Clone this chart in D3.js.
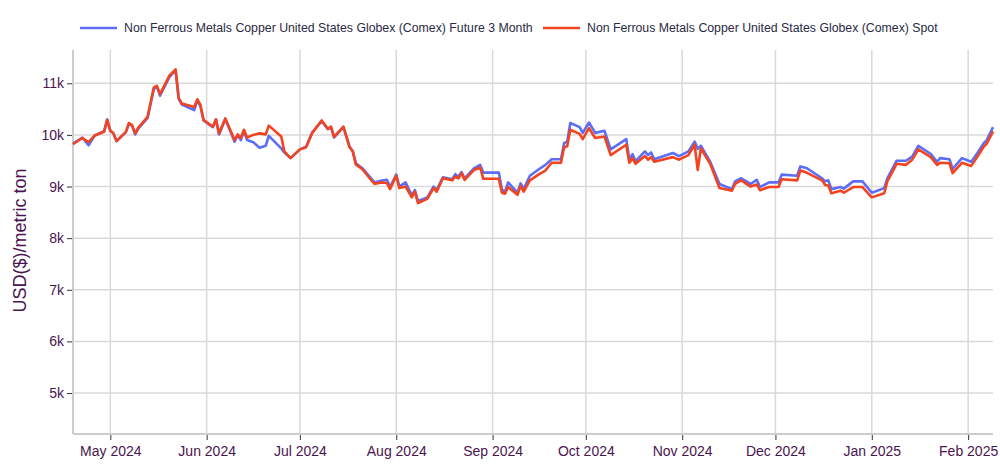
<!DOCTYPE html>
<html>
<head>
<meta charset="utf-8">
<script src="https://cdn.jsdelivr.net/npm/d3@7"></script>
<style>
  body { margin: 0; background: #fff; }
  svg { display: block; font-family: "Liberation Sans", Arial, sans-serif; }
</style>
</head>
<body>
<div id="chart"></div>
<script>
// series names
var seriesNames = [
  "Non Ferrous Metals Copper United States Globex (Comex) Future 3 Month",
  "Non Ferrous Metals Copper United States Globex (Comex) Spot"
]

var dates = [
  "2024-04-19","2024-04-22","2024-04-24","2024-04-26","2024-04-29","2024-04-30",
  "2024-05-01","2024-05-02","2024-05-03","2024-05-06","2024-05-07","2024-05-08","2024-05-09","2024-05-10",
  "2024-05-13","2024-05-15","2024-05-16","2024-05-17","2024-05-20","2024-05-22","2024-05-23","2024-05-24",
  "2024-05-28","2024-05-29","2024-05-30","2024-05-31",
  "2024-06-03","2024-06-04","2024-06-05","2024-06-07","2024-06-10","2024-06-11","2024-06-12","2024-06-13",
  "2024-06-14","2024-06-16","2024-06-18","2024-06-20","2024-06-21","2024-06-25","2024-06-26","2024-06-28",
  "2024-07-01","2024-07-03","2024-07-05","2024-07-08","2024-07-10","2024-07-11","2024-07-12","2024-07-15",
  "2024-07-17","2024-07-18","2024-07-19","2024-07-21","2024-07-25","2024-07-27","2024-07-29","2024-07-30",
  "2024-08-01","2024-08-02","2024-08-04","2024-08-06","2024-08-07","2024-08-08","2024-08-11","2024-08-13",
  "2024-08-14","2024-08-16","2024-08-19","2024-08-20","2024-08-21","2024-08-22","2024-08-23","2024-08-26",
  "2024-08-28","2024-08-29",
  "2024-09-03","2024-09-04","2024-09-05","2024-09-06","2024-09-09","2024-09-10","2024-09-11","2024-09-13",
  "2024-09-16","2024-09-18","2024-09-20","2024-09-23","2024-09-24","2024-09-25","2024-09-26","2024-09-29",
  "2024-09-30",
  "2024-10-02","2024-10-04","2024-10-07","2024-10-09","2024-10-14","2024-10-15","2024-10-16","2024-10-17",
  "2024-10-20","2024-10-21","2024-10-22","2024-10-23","2024-10-29","2024-10-31",
  "2024-11-03","2024-11-05","2024-11-06","2024-11-07","2024-11-10","2024-11-13","2024-11-17","2024-11-18",
  "2024-11-20","2024-11-23","2024-11-25","2024-11-26","2024-11-29",
  "2024-12-02","2024-12-03","2024-12-08","2024-12-09","2024-12-11","2024-12-16","2024-12-17","2024-12-18",
  "2024-12-19","2024-12-22","2024-12-23","2024-12-26","2024-12-29",
  "2025-01-01","2025-01-05","2025-01-06","2025-01-09","2025-01-12","2025-01-14","2025-01-16","2025-01-20",
  "2025-01-22","2025-01-23","2025-01-26","2025-01-27","2025-01-30",
  "2025-02-02","2025-02-04","2025-02-06","2025-02-07","2025-02-09"
]

var future3m = [
  9830,9950,9800,9990,10070,10300,
  10080,10030,9880,10050,10215,10180,10010,10120,
  10330,10890,10930,10760,11120,11260,10700,10590,
  10480,10670,10560,10280,
  10150,10300,10010,10310,9870,10000,9900,10080,
  9900,9860,9750,9790,9980,9740,9660,9550,
  9720,9770,10050,10270,10110,10150,9950,10150,
  9770,9690,9450,9360,9080,9110,9130,8990,
  9230,9000,9080,8830,8930,8720,8790,9000,
  8930,9180,9140,9240,9190,9280,9160,9350,
  9420,9270,
  9270,8940,8900,9080,8880,9060,8950,9210,
  9340,9420,9530,9530,9840,9870,10230,10150,
  10040,
  10240,10040,10080,9720,9920,9520,9630,9490,
  9680,9610,9660,9530,9650,9590,
  9680,9870,9730,9790,9480,9050,8950,9100,
  9160,9050,9130,8990,9080,
  9080,9230,9210,9390,9360,9160,9100,9120,
  8950,8990,8960,9100,9100,
  8880,8970,9160,9500,9500,9580,9790,9630,
  9480,9550,9530,9340,9550,
  9480,9650,9840,9900,10150
]

var spot = [
  9820,9940,9860,9990,10060,10290,
  10080,10030,9880,10060,10230,10190,10030,10140,
  10350,10920,10950,10790,11150,11270,10720,10610,
  10540,10690,10580,10290,
  10160,10300,10030,10320,9900,10010,9940,10100,
  9950,10000,10030,10010,10180,9970,9680,9550,
  9720,9760,10040,10280,10120,10160,9960,10160,
  9760,9680,9430,9340,9050,9080,9070,8950,
  9210,8970,9000,8790,8900,8680,8760,8970,
  8900,9160,9120,9190,9160,9260,9130,9320,
  9370,9150,
  9150,8880,8860,8990,8840,9010,8900,9120,
  9240,9310,9460,9460,9760,9780,10100,10020,
  9920,
  10130,9940,9970,9610,9810,9460,9550,9440,
  9590,9520,9570,9480,9570,9520,
  9610,9810,9320,9740,9440,8970,8920,9050,
  9120,9000,9040,8930,8990,
  8990,9140,9120,9310,9270,9120,9030,9020,
  8870,8920,8880,8990,8990,
  8790,8870,9100,9440,9420,9520,9720,9570,
  9420,9460,9450,9260,9460,
  9400,9580,9770,9830,10070
]

var yTicks = [5000, 6000, 7000, 8000, 9000, 10000, 11000]
var xTicks = ["2024-05-01","2024-06-01","2024-07-01","2024-08-01","2024-09-01","2024-10-01",
              "2024-11-01","2024-12-01","2025-01-01","2025-02-01"]
var xDomain = ["2024-04-19", "2025-02-09"]
var yDomain = [4226, 11645]

var colors = ["#5b6ef5", "#f4431f"]
var textColor = "#4a1450"

var parse = d3.timeParse("%Y-%m-%d")

var width = 1000, height = 473
var margin = {left: 73, right: 7, top: 50, bottom: 40}

var svg = d3.select("#chart").append("svg")
  .attr("width", width).attr("height", height)

var x = d3.scaleTime()
  .domain(xDomain.map(parse))
  .range([margin.left, width - margin.right])
var y = d3.scaleLinear()
  .domain(yDomain)
  .range([height - margin.bottom, margin.top])

// gridlines
svg.append("g").selectAll("line.h")
  .data(yTicks).join("line")
  .attr("x1", margin.left).attr("x2", width - margin.right)
  .attr("y1", d => y(d)).attr("y2", d => y(d))
  .attr("stroke", "#d9d9d9").attr("stroke-width", 1.5)

svg.append("g").selectAll("line.v")
  .data(xTicks.map(parse)).join("line")
  .attr("x1", d => x(d)).attr("x2", d => x(d))
  .attr("y1", margin.top).attr("y2", height - margin.bottom)
  .attr("stroke", "#d9d9d9").attr("stroke-width", 1.5)

// axes
var yAxis = svg.append("g")
  .attr("transform", "translate(" + margin.left + ",0)")
  .call(d3.axisLeft(y).tickValues(yTicks).tickSize(6).tickPadding(3).tickFormat(d => (d / 1000) + "k"))
yAxis.select(".domain").remove()

var xAxis = svg.append("g")
  .attr("transform", "translate(0," + (height - margin.bottom) + ")")
  .call(d3.axisBottom(x).tickValues(xTicks.map(parse)).tickSize(7).tickPadding(6).tickFormat(d3.timeFormat("%b %Y")))
xAxis.select(".domain").remove()

;[yAxis, xAxis].forEach(function(a){
  a.selectAll("text").attr("fill", textColor).style("font-size", "14px")
  a.selectAll(".tick line").attr("stroke", "#333").attr("stroke-width", 1)
})
xAxis.selectAll(".tick line").attr("y1", 2)
yAxis.selectAll(".tick line").attr("x1", -1).attr("x2", -6)

// axis lines
svg.append("line")
  .attr("x1", margin.left).attr("x2", margin.left)
  .attr("y1", margin.top).attr("y2", height - margin.bottom + 1)
  .attr("stroke", "#cccccc").attr("stroke-width", 2)
svg.append("line")
  .attr("x1", margin.left).attr("x2", width - margin.right)
  .attr("y1", height - margin.bottom + 1).attr("y2", height - margin.bottom + 1)
  .attr("stroke", "#cccccc").attr("stroke-width", 2)

// y title
svg.append("text")
  .attr("transform", "translate(26," + ((margin.top + height - margin.bottom) / 2 - 1) + ") rotate(-90)")
  .attr("text-anchor", "middle")
  .attr("fill", textColor)
  .style("font-size", "18px")
  .text("USD($)/metric ton")

// lines
var line = d3.line()
  .x(d => x(d.date))
  .y(d => y(d.value))

var series = [future3m, spot].map(function(vals, i){
  return {name: seriesNames[i], color: colors[i],
    values: dates.map((d, j) => ({date: parse(d), value: vals[j]}))}
})

svg.append("g").selectAll("path")
  .data(series).join("path")
  .attr("d", d => line(d.values))
  .attr("fill", "none")
  .attr("stroke", d => d.color)
  .attr("stroke-width", 2.6)
  .attr("stroke-linejoin", "round")

// legend
var legendX = [80, 543]
var legend = svg.append("g").selectAll("g")
  .data(series).join("g")
  .attr("transform", (d, i) => "translate(" + legendX[i] + ",28)")
legend.append("line")
  .attr("x1", 0).attr("x2", 37)
  .attr("stroke", d => d.color).attr("stroke-width", 2.5)
legend.append("text")
  .attr("x", 44).attr("dy", "0.35em")
  .attr("fill", "#2a2a44")
  .style("font-size", "12.3px")
  .text(d => d.name)
</script>
</body>
</html>
